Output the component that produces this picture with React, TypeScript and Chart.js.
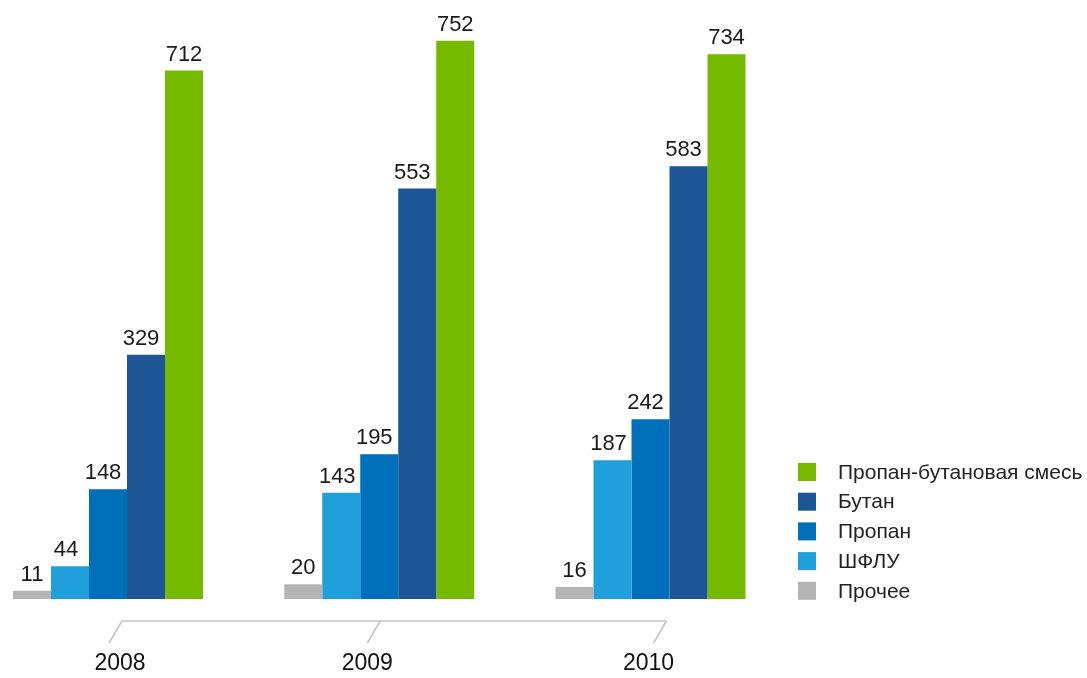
import React, { useEffect, useRef } from "react";
import { Chart, registerables } from "chart.js";

Chart.register(...registerables);

const years = ["2008", "2009", "2010"];
const seriesNames = ["Прочее", "ШФЛУ", "Пропан", "Бутан", "Пропан-бутановая смесь"];
const prochee = [11, 20, 16];
const shflu = [44, 143, 187];
const propan = [148, 195, 242];
const butan = [329, 553, 583];
const smes = [712, 752, 734];
const colors = ["#b4b4b4", "#209fdb", "#006fba", "#1e5594", "#75b900"];
const labelShift = [0, -4, -5, -5, 0];

const FONT = "'Liberation Sans', Arial, sans-serif";

const valueLabels = {
  id: "valueLabels",
  afterDatasetsDraw(chart: any) {
    const ctx = chart.ctx;
    ctx.save();
    ctx.font = `22px ${FONT}`;
    ctx.fillStyle = "#1a1a1a";
    ctx.textAlign = "center";
    ctx.textBaseline = "alphabetic";
    chart.data.datasets.forEach((ds: any, di: number) => {
      const meta = chart.getDatasetMeta(di);
      meta.data.forEach((el: any, i: number) => {
        ctx.fillText(String(ds.data[i]), el.x + labelShift[di], el.y - 10);
      });
    });
    ctx.restore();
  },
};

const bracketAxis = {
  id: "bracketAxis",
  afterDraw(chart: any) {
    const ctx = chart.ctx;
    const xs = chart.scales.x;
    const yTop = chart.chartArea.bottom + 22;
    const yBot = yTop + 22;
    ctx.save();
    ctx.strokeStyle = "#c3c3c3";
    ctx.lineWidth = 1.5;
    const px = years.map((_, i) => xs.getPixelForValue(i));
    const tops = [px[0] + 14, px[1] + 1, px[2] + 16];
    ctx.beginPath();
    ctx.moveTo(tops[0], yTop);
    ctx.lineTo(tops[2], yTop);
    px.forEach((p, i) => {
      ctx.moveTo(tops[i], yTop);
      ctx.lineTo(tops[i] - 13, yBot);
    });
    ctx.stroke();
    ctx.font = `23px ${FONT}`;
    ctx.fillStyle = "#111";
    ctx.textAlign = "center";
    ctx.textBaseline = "alphabetic";
    const lx = [px[0] + 12, px[1] - 12, px[2] - 2];
    years.forEach((y, i) => ctx.fillText(y, lx[i], yBot + 27));
    ctx.restore();
  },
};

const sideLegend = {
  id: "sideLegend",
  afterDraw(chart: any) {
    const ctx = chart.ctx;
    ctx.save();
    ctx.font = `21px ${FONT}`;
    ctx.textBaseline = "middle";
    ctx.textAlign = "left";
    const items = chart.data.datasets.map((d: any, i: number) => ({ label: d.label, color: colors[i] })).reverse();
    items.forEach((it: any, i: number) => {
      const cy = 472 + i * 29.7;
      ctx.fillStyle = it.color;
      ctx.fillRect(798, cy - 9, 18, 18);
      ctx.fillStyle = "#222";
      ctx.fillText(it.label, 838, cy + 1);
    });
    ctx.restore();
  },
};

export default function App() {
  const ref = useRef<HTMLCanvasElement>(null);
  useEffect(() => {
    const values = [prochee, shflu, propan, butan, smes];
    const chart = new Chart(ref.current!, {
      type: "bar",
      data: {
        labels: years,
        datasets: seriesNames.map((name, i) => ({
          label: name,
          data: values[i],
          backgroundColor: colors[i],
          borderWidth: 0,
          clip: false as any,
          barPercentage: 1,
          categoryPercentage: 0.7005,
        })),
      },
      options: {
        animation: false,
        responsive: false,
        maintainAspectRatio: false,
        layout: { padding: { left: 108, right: 436.5, top: 0, bottom: 79 } },
        plugins: { legend: { display: false }, tooltip: { enabled: false } },
        scales: {
          x: { display: false, offset: false, grid: { offset: false } },
          y: { display: false, min: 0, max: 807 },
        },
      },
      plugins: [valueLabels, bracketAxis, sideLegend],
    });
    return () => chart.destroy();
  }, []);
  return (
    <div style={{ position: "fixed", left: 0, top: 0, width: 1087, height: 678, background: "#fff" }}>
      <canvas ref={ref} width={1087} height={678} style={{ width: 1087, height: 678, display: "block" }} />
    </div>
  );
}
